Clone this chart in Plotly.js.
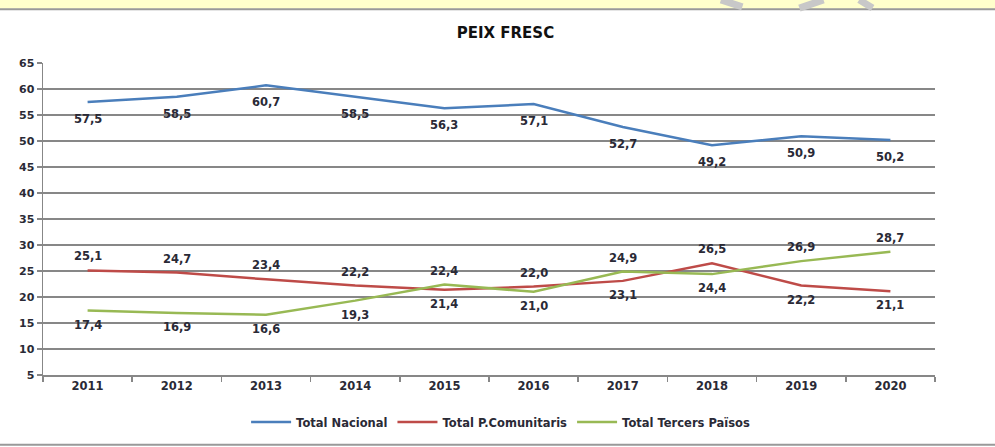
<!DOCTYPE html>
<html>
<head>
<meta charset="utf-8">
<script src="https://cdn.plot.ly/plotly-3.0.1.min.js"></script>
<style>html,body{margin:0;padding:0;background:#fff;}#chart{width:995px;height:447px;}</style>
</head>
<body>
<div id="chart"></div>
<script>
const years = ['2011','2012','2013','2014','2015','2016','2017','2018','2019','2020'];
const totalNacional = [57.5, 58.5, 60.7, 58.5, 56.3, 57.1, 52.7, 49.2, 50.9, 50.2];
const totalComunitaris = [25.1, 24.7, 23.4, 22.2, 21.4, 22.0, 23.1, 26.5, 22.2, 21.1];
const totalTercers = [17.4, 16.9, 16.6, 19.3, 22.4, 21.0, 24.9, 24.4, 26.9, 28.7];
const seriesNames = ['Total Nacional', 'Total P.Comunitaris', 'Total Tercers Països'];
const yTicks = [5,10,15,20,25,30,35,40,45,50,55,60,65];

// label side for each point: 'above' or 'below'
const sideNac = ['below','below','below','below','below','below','below','below','below','below'];
const sideCom = ['above','above','above','above','below','above','below','above','below','below'];
const sideTer = ['below','below','below','below','above','below','above','below','above','above'];

const fmt = v => v.toFixed(1).replace('.', ',');
const FONT = 'DejaVu Sans, sans-serif';
const TXT = '#2a2a36';
const labelFont = {family: FONT, size: 11.5, color: TXT, weight: 'bold'};
const colors = ['#4A7EBB', '#BE4B48', '#98B954'];

const allVals = [totalNacional, totalComunitaris, totalTercers];
const allSides = [sideNac, sideCom, sideTer];
const shifts = [17, 14, 14];

const traces = allVals.map((vals, k) => ({
  x: years, y: vals, name: seriesNames[k], type: 'scatter', mode: 'lines',
  line: {color: colors[k], width: 2.5}
}));

const annotations = [];
allVals.forEach((vals, k) => {
  vals.forEach((v, i) => {
    annotations.push({
      x: i, y: v, xref: 'x', yref: 'y', text: fmt(v), showarrow: false,
      xanchor: 'center', yanchor: 'middle',
      yshift: allSides[k][i] === 'above' ? shifts[k] : -shifts[k],
      font: labelFont
    });
  });
});

const tickFont = {family: FONT, size: 11.5, color: TXT, weight: 'bold'};

const layout = {
  width: 995, height: 447,
  margin: {l: 43, r: 60, t: 63, b: 71},
  paper_bgcolor: '#ffffff', plot_bgcolor: '#ffffff',
  font: {family: FONT, size: 11.5, color: TXT},
  title: {text: '<b>PEIX FRESC</b>', font: {family: FONT, size: 15, color: '#111'}, x: 0.508, xanchor: 'center', y: 0.926, yanchor: 'middle', yref: 'container'},
  showlegend: true,
  legend: {orientation: 'h', x: 0.513, xanchor: 'center', y: -0.147, yanchor: 'middle', font: tickFont, itemwidth: 40, tracegroupgap: 0},
  annotations: annotations,
  xaxis: {type: 'category', range: [-0.5, 9.5], showgrid: false, showline: true, linecolor: '#878787', linewidth: 1.5,
          ticks: 'outside', tickson: 'boundaries', ticklen: 5, tickcolor: '#878787', tickwidth: 1.5,
          tickfont: tickFont, zeroline: false, fixedrange: true},
  yaxis: {range: [5, 65], tickvals: yTicks, ticktext: yTicks.map(String), showgrid: true, gridcolor: '#878787', gridwidth: 1.5,
          showline: true, linecolor: '#878787', linewidth: 1.5, ticks: 'outside', ticklen: 5, tickcolor: '#878787', tickwidth: 1.5,
          tickfont: {family: FONT, size: 11, color: TXT, weight: 'bold'}, zeroline: false, fixedrange: true},
  shapes: [
    {type: 'rect', xref: 'paper', yref: 'paper', x0: -0.05, x1: 1.07, y0: 1.174, y1: 1.2025, fillcolor: '#FFFFCC', line: {width: 0}, layer: 'below'},
    {type: 'line', xref: 'paper', yref: 'paper', x0: -0.05, x1: 1.07, y0: 1.172, y1: 1.172, line: {color: '#999999', width: 2}},
    {type: 'line', xref: 'paper', yref: 'paper', x0: -0.05, x1: 1.07, y0: -0.2236, y1: -0.2236, line: {color: '#999999', width: 2}},
    {type: 'line', xref: 'paper', yref: 'paper', x0: 0.76, x1: 0.784, y0: 1.2025, y1: 1.18, line: {color: '#c8c8c8', width: 7}},
    {type: 'line', xref: 'paper', yref: 'paper', x0: 0.848, x1: 0.875, y0: 1.176, y1: 1.2025, line: {color: '#c8c8c8', width: 7}},
    {type: 'line', xref: 'paper', yref: 'paper', x0: 0.915, x1: 0.93, y0: 1.2025, y1: 1.176, line: {color: '#c8c8c8', width: 7}}
  ]
};

Plotly.newPlot('chart', traces, layout, {displayModeBar: false, staticPlot: true});
</script>
</body>
</html>
